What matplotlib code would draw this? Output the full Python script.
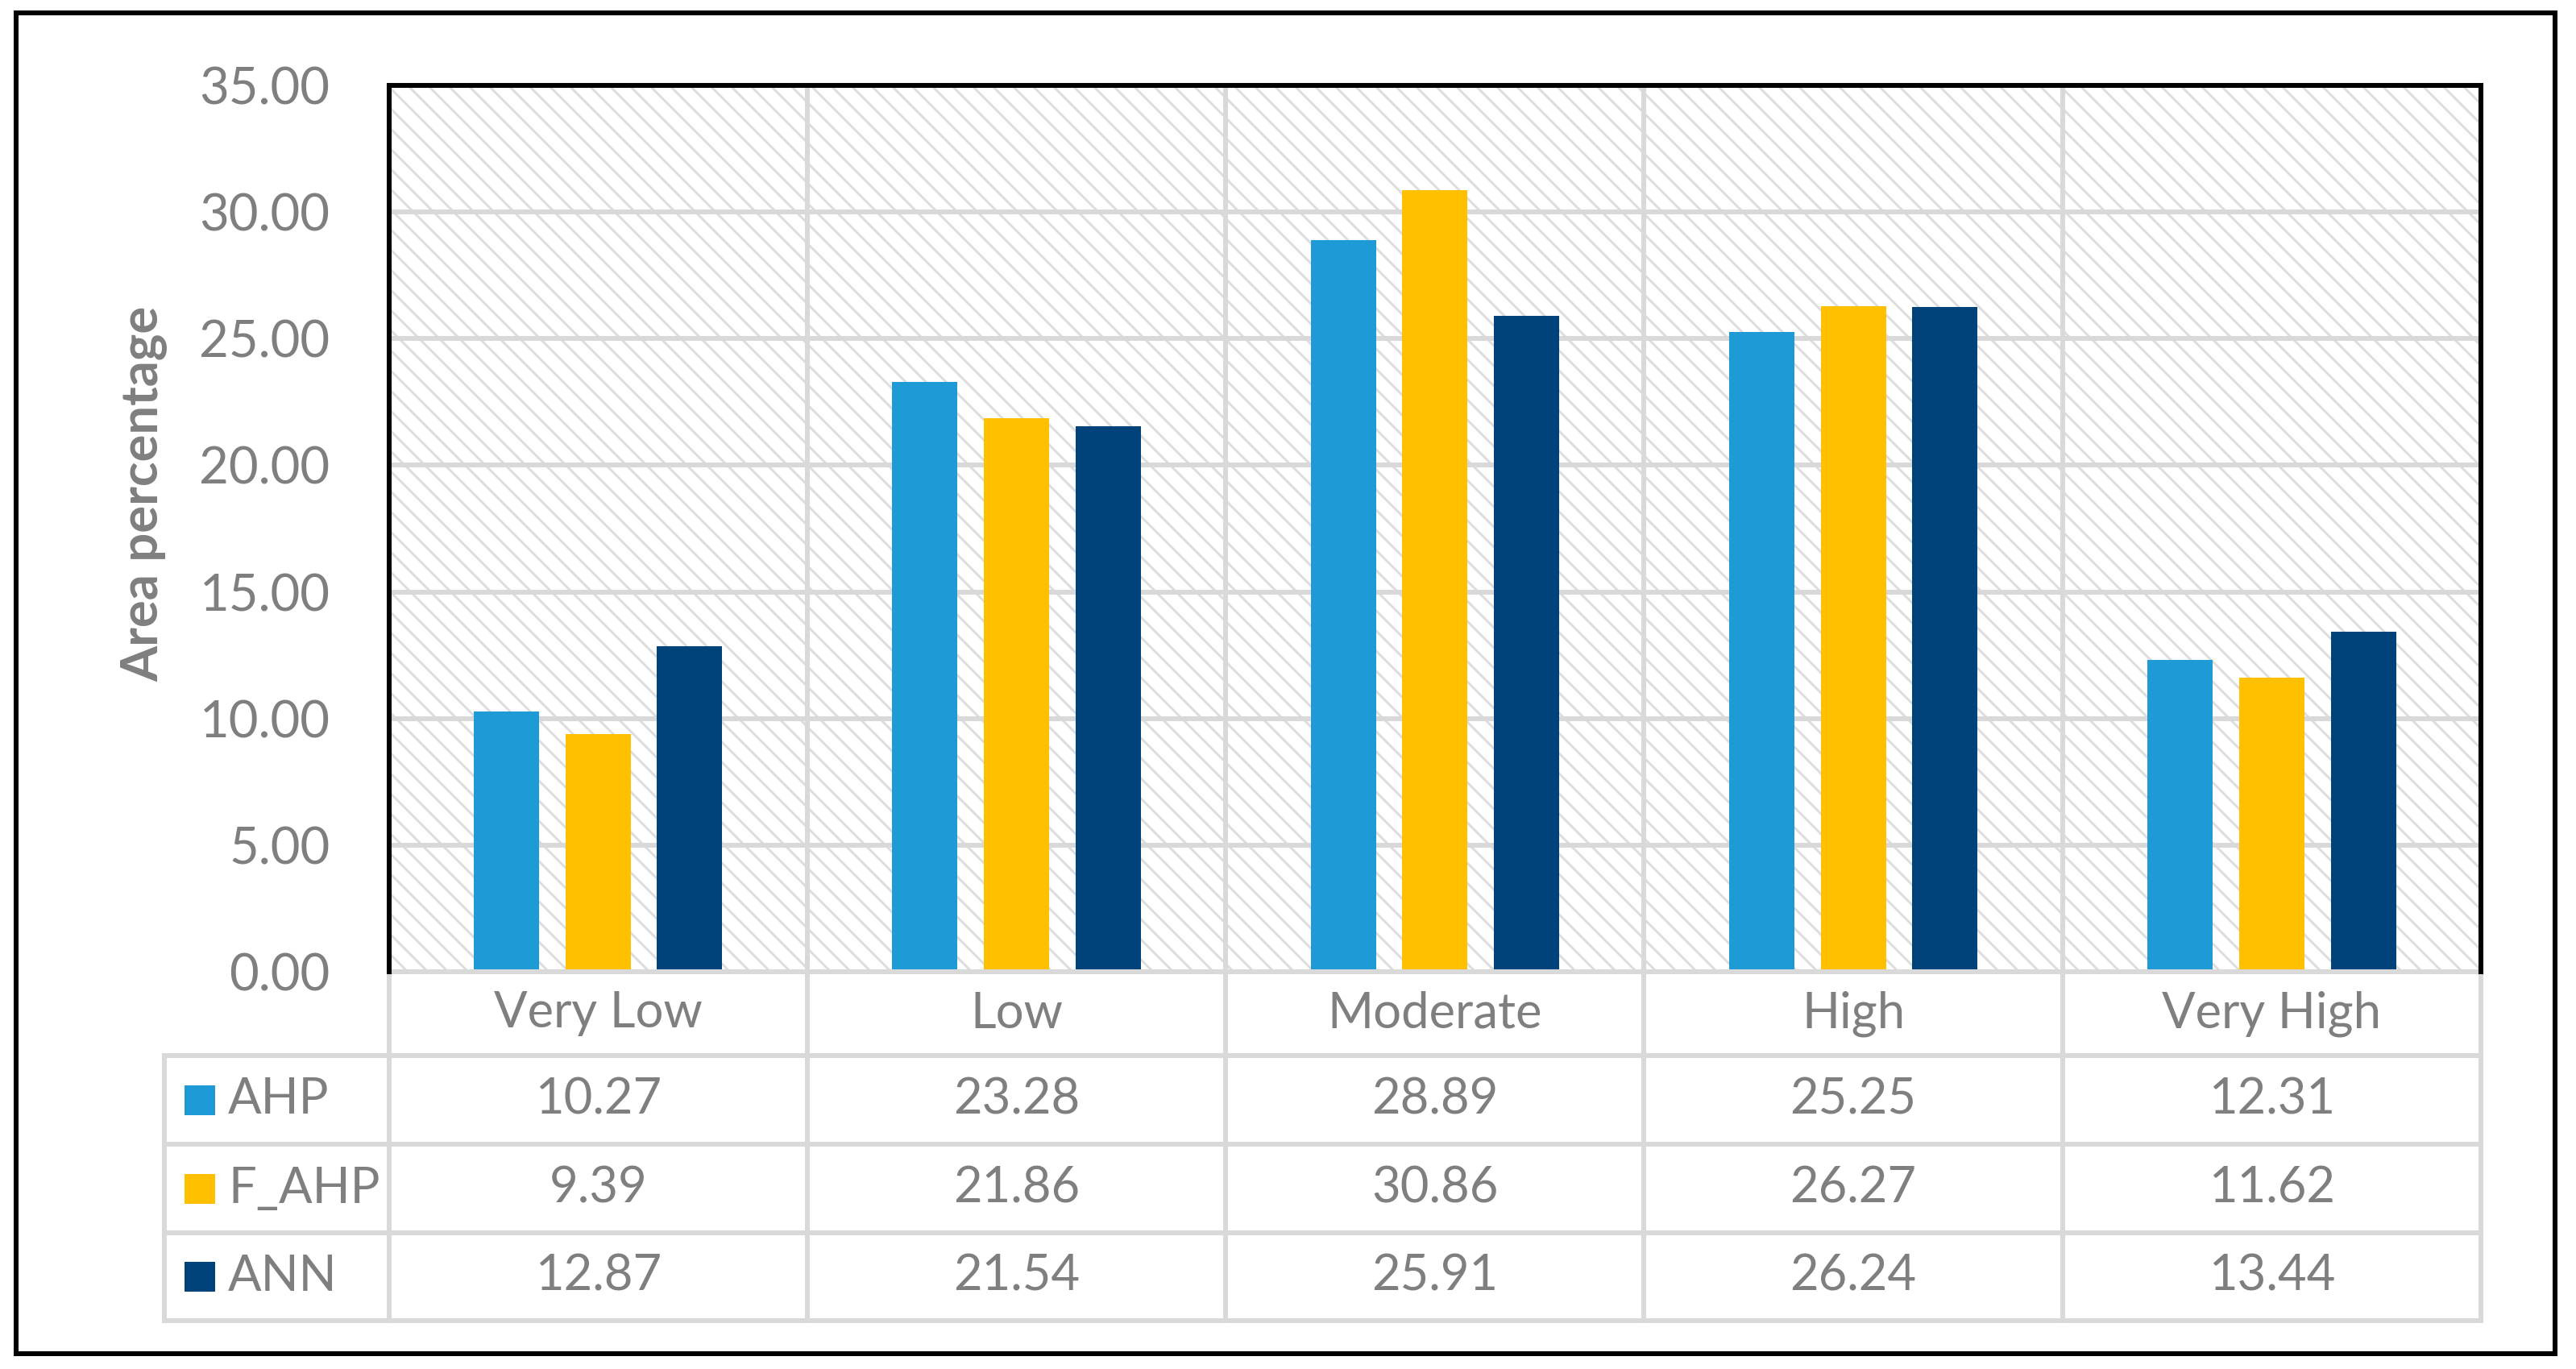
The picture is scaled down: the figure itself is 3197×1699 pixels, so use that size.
import matplotlib
matplotlib.use("Agg")
import matplotlib.pyplot as plt
from matplotlib.patches import Rectangle
from matplotlib.lines import Line2D
import matplotlib.transforms as mtransforms

categories = ["Very Low", "Low", "Moderate", "High", "Very High"]
series_names = ["AHP", "F_AHP", "ANN"]
ahp = [10.27, 23.28, 28.89, 25.25, 12.31]
f_ahp = [9.39, 21.86, 30.86, 26.27, 11.62]
ann = [12.87, 21.54, 25.91, 26.24, 13.44]
yticks = [0, 5, 10, 15, 20, 25, 30, 35]
ylabel = "Area percentage"

series_values = [ahp, f_ahp, ann]
colors = ["#1E9BD7", "#FFC000", "#00427A"]
gray_text = "#7F7F7F"
grid_gray = "#D9D9D9"

plt.rcParams['font.family'] = ['Lato', 'DejaVu Sans']
plt.rcParams['hatch.linewidth'] = 1.4

W, H, DPI = 3197, 1699, 150
fig = plt.figure(figsize=(W / DPI, H / DPI), dpi=DPI)

FS = 30.5      # tick / label font size
FS_T = 29.5    # table font size
LW_G = 2.9     # grid/table line width (pt)
LW_S = 2.9     # spine width (pt)

# axes geometry in pixels
ax_l, ax_r, ax_t, ax_b = 482.5, 3079, 106, 1206
ax = fig.add_axes([ax_l / W, 1 - ax_b / H, (ax_r - ax_l) / W, (ax_b - ax_t) / H])

n = len(categories)
ax.set_xlim(-0.5, n - 0.5)
ax.set_ylim(0, 35)

# hatched background (fine diagonal texture)
bg = Rectangle((0, 0), 1, 1, transform=ax.transAxes, facecolor="white",
               edgecolor="#DDDDDD", hatch="\\\\", linewidth=0, zorder=0)
ax.add_patch(bg)

# gridlines
for y in yticks[1:]:
    ax.axhline(y, color=grid_gray, lw=LW_G, zorder=1)
for i in range(1, n):
    ax.axvline(i - 0.5, color=grid_gray, lw=LW_G, zorder=1)

offsets = [-0.219, 0.0, 0.219]
bw = 0.156
for k, vals in enumerate(series_values):
    xs = [i + offsets[k] for i in range(n)]
    ax.bar(xs, vals, width=bw, color=colors[k], zorder=3, label=series_names[k])

ax.set_xticks([])
ax.set_yticks(yticks)
ax.set_yticklabels([f"{v:.2f}" for v in yticks], fontsize=FS, color=gray_text)
ax.tick_params(axis='y', length=0, pad=35)
ax.set_ylabel(ylabel, fontsize=FS, fontweight='bold', color=gray_text)
ax.yaxis.label.set_verticalalignment('center')
ax.yaxis.set_label_coords((178 - ax_l) / (ax_r - ax_l), (ax_b - 613) / (ax_b - ax_t))

for side in ["left", "top", "right"]:
    ax.spines[side].set_color("black")
    ax.spines[side].set_linewidth(LW_S)
    ax.spines[side].set_zorder(5)
ax.spines["bottom"].set_visible(False)

# ---- data table below the axes ----
ph = ax_b - ax_t
pw = ax_r - ax_l
def fy(px):
    return (ax_b - px) / ph  # axes fraction for pixel row

row_edges = [fy(1206), fy(1310), fy(1420), fy(1530), fy(1639)]
blend = mtransforms.blended_transform_factory(ax.transData, ax.transAxes)
leg_left = (204 - ax_l) / pw

def line(xs, ys, tr):
    ax.add_line(Line2D(xs, ys, transform=tr, color=grid_gray, lw=LW_G,
                       clip_on=False, zorder=4, solid_capstyle='projecting'))

for ye in row_edges:
    line([-0.5, n - 0.5], [ye, ye], blend)
for ye in row_edges[1:]:
    line([leg_left, 0], [ye, ye], ax.transAxes)
for i in range(n + 1):
    line([i - 0.5, i - 0.5], [row_edges[0], row_edges[-1]], blend)
line([leg_left, leg_left], [row_edges[1], row_edges[-1]], ax.transAxes)

for i, c in enumerate(categories):
    ax.text(i, (row_edges[0] + row_edges[1]) / 2, c, transform=blend,
            ha='center', va='center', fontsize=FS_T, color=gray_text)

key_w = 38 / pw
key_h = 37 / ph
key_x = (229 - ax_l) / pw
lab_x = (283 - ax_l) / pw
for k, vals in enumerate(series_values):
    yc = (row_edges[k + 1] + row_edges[k + 2]) / 2
    ax.add_patch(Rectangle((key_x, yc - key_h / 2), key_w, key_h,
                           transform=ax.transAxes, facecolor=colors[k],
                           edgecolor='none', clip_on=False, zorder=4))
    ax.text(lab_x, yc, series_names[k], transform=ax.transAxes,
            ha='left', va='center', fontsize=FS_T, color=gray_text)
    for i, v in enumerate(vals):
        ax.text(i, yc, f"{v:.2f}", transform=blend, ha='center', va='center',
                fontsize=FS_T, color=gray_text)

# outer border
bx0, by0, bx1, by1 = 20, 15.5, 3171, 1680
fig.add_artist(Rectangle((bx0 / W, 1 - by1 / H), (bx1 - bx0) / W, (by1 - by0) / H,
                         transform=fig.transFigure, fill=False,
                         edgecolor='black', lw=LW_S))

fig.savefig("out.png", dpi=DPI, facecolor="white")
